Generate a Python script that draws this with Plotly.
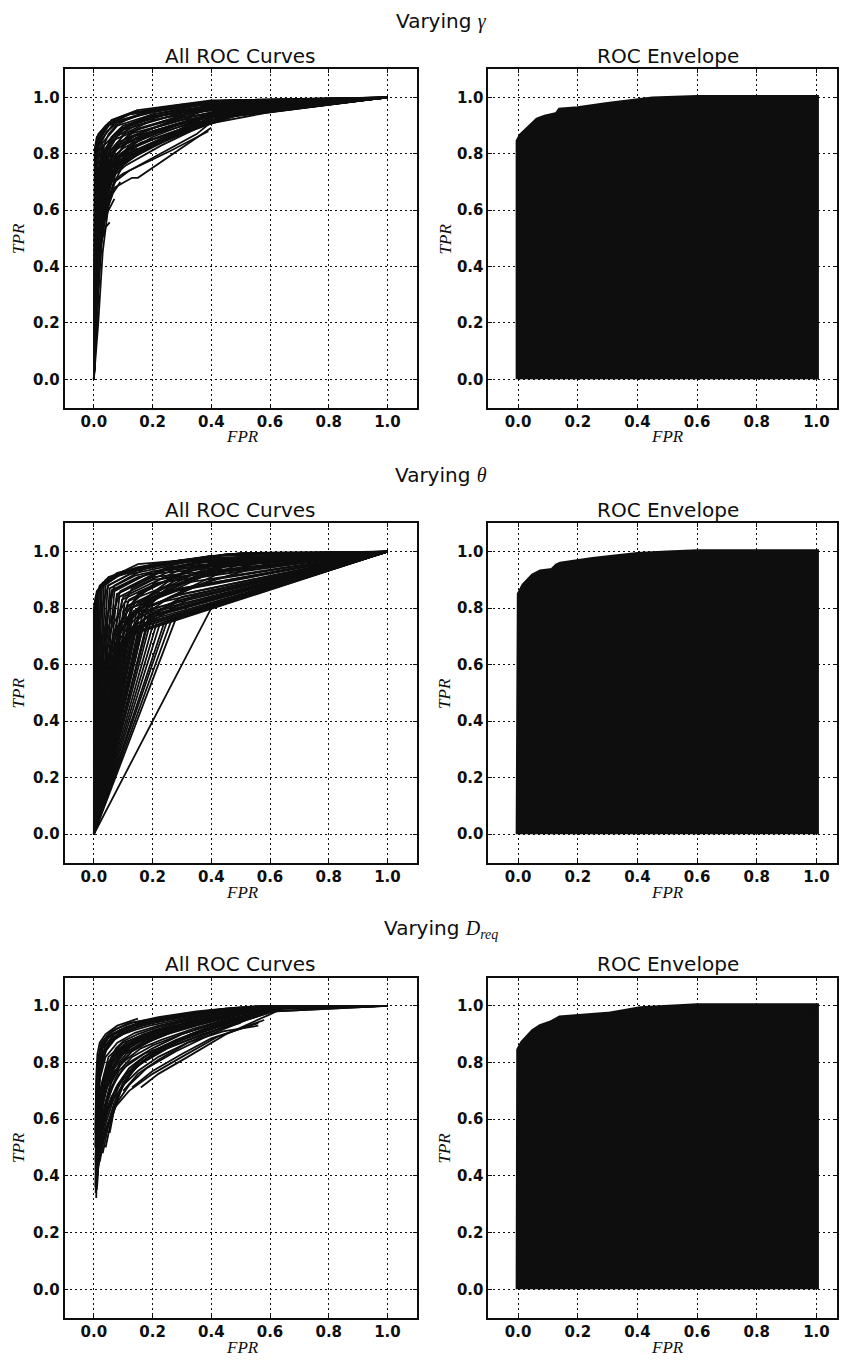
import plotly.graph_objects as go

W, H = 849, 1362
INK = "#0e0e0e"

# ---------------- ROC curves while varying gamma ----------------
GAMMA_FPR = [
    [0, 0.002, 0.006, 0.02, 0.06, 0.15, 0.40, 1.0],
    [0, 0.003, 0.008, 0.025, 0.07, 0.18, 0.45, 1.0],
    [0, 0.004, 0.010, 0.03, 0.08, 0.20, 0.45, 1.0],
    [0, 0.005, 0.012, 0.035, 0.09, 0.22, 0.48, 1.0],
    [0, 0.006, 0.015, 0.04, 0.10, 0.25, 0.50, 1.0],
    [0, 0.007, 0.018, 0.045, 0.11, 0.28, 0.52, 1.0],
    [0, 0.008, 0.020, 0.05, 0.12, 0.30, 0.55, 1.0],
    [0, 0.009, 0.022, 0.055, 0.13, 0.32, 0.55, 1.0],
    [0, 0.010, 0.025, 0.06, 0.14, 0.34, 0.58, 1.0],
    [0, 0.012, 0.030, 0.065, 0.16, 0.38, 0.60, 1.0],
    [0, 0.012, 0.03, 0.06, 0.10, 0.20, 0.35, 0.45, 1.0],
    [0, 0.010, 0.035, 0.065, 0.12, 0.25, 0.40, 1.0],
    [0, 0.015, 0.04, 0.07, 0.13, 0.15, 0.40],
    [0, 0.012, 0.035, 0.06, 0.10, 0.12, 0.35, 0.42, 1.0],
    [0, 0.010, 0.03, 0.05, 0.09, 0.22, 0.38, 0.50, 1.0],
    [0, 0.008, 0.025, 0.05, 0.08, 0.18, 0.30, 0.45, 1.0],
    [0, 0.008, 0.02, 0.045, 0.08, 0.20, 0.33, 0.45, 1.0],
    [0, 0.007, 0.02, 0.04, 0.07, 0.16, 0.28, 0.42, 1.0],
    [0, 0.006, 0.018, 0.04, 0.075, 0.14, 0.30, 0.45, 1.0],
    [0, 0.010, 0.03, 0.055, 0.09, 0.17, 0.27, 0.38, 0.58, 1.0],
    [0, 0.010, 0.03, 0.05, 0.07],
    [0, 0.015, 0.04, 0.054],
    [0, 0.010, 0.03, 0.06, 0.11, 0.20, 0.30, 0.44, 1.0],
    [0, 0.009, 0.028, 0.055, 0.10, 0.19, 0.33, 0.46, 1.0],
    [0, 0.011, 0.032, 0.06, 0.12, 0.22, 0.36, 0.50, 1.0],
    [0, 0.010, 0.03, 0.07, 0.12, 0.16, 0.26, 0.39],
    [0, 0.013, 0.036, 0.065, 0.11, 0.23, 0.37, 0.52, 1.0],
    [0, 0.008, 0.022, 0.045, 0.085, 0.15, 0.25, 0.40, 1.0],
    [0, 0.005, 0.015, 0.035, 0.065, 0.12, 0.25, 0.42, 1.0],
    [0, 0.001, 0.004, 0.015, 0.05, 0.10, 0.15, 0.30, 0.45, 1.0],
    [0, 0.002, 0.005, 0.018, 0.055, 0.12, 0.20, 0.40, 1.0],
    [0, 0.001, 0.003, 0.010, 0.04, 0.08, 0.15],
    [0, 0.002, 0.006, 0.02, 0.05, 0.09, 0.25, 0.50, 1.0],
    [0, 0.012, 0.035, 0.07, 0.12, 0.25, 0.40, 0.60, 1.0],
    [0, 0.009, 0.025, 0.05, 0.09, 0.14, 0.22, 0.33, 0.48, 1.0],
    [0, 0.011, 0.03, 0.06, 0.10, 0.15, 0.24, 0.34, 0.44, 1.0],
    [0, 0.020, 0.04, 0.06, 0.09, 0.20, 0.40, 1.0],
    [0, 0.015, 0.03, 0.05, 0.08, 0.15, 0.35, 1.0],
    [0, 0.018, 0.035, 0.05, 0.07, 0.12, 0.30, 1.0],
    [0, 0.025, 0.045, 0.065, 0.09],
    [0, 0.012, 0.025, 0.04, 0.06, 0.10, 0.20, 0.42, 1.0],
    [0, 0.006, 0.012, 0.025, 0.045, 0.08, 0.18, 0.40, 1.0],
    [0, 0.003, 0.008, 0.015, 0.03, 0.06, 0.12, 0.30, 1.0],
    [0, 0.020, 0.05, 0.08, 0.10, 0.18, 0.32, 0.45, 1.0],
    [0, 0.016, 0.04, 0.07, 0.09, 0.14, 0.22, 0.30, 0.38, 0.50, 1.0],
    [0, 0.010, 0.022, 0.035, 0.055, 0.085, 0.13, 0.20, 0.35, 1.0],
    [0, 0.008, 0.018, 0.03, 0.05, 0.075, 0.11, 0.16, 0.24, 0.36, 0.50, 1.0],
    [0, 0.014, 0.03, 0.045, 0.07, 0.11, 0.17, 0.26, 0.36, 0.48, 1.0],
    [0, 0.015, 0.03, 0.05, 0.08, 0.14, 0.30, 0.45, 1.0],
    [0, 0.012, 0.025, 0.04, 0.06, 0.10, 0.20, 0.40, 1.0],
    [0, 0.010, 0.02, 0.035, 0.055, 0.09, 0.18, 0.40, 1.0],
    [0, 0.008, 0.018, 0.03, 0.05, 0.075, 0.15],
    [0, 0.006, 0.015, 0.025, 0.04, 0.065, 0.10, 0.20, 0.35, 1.0],
    [0, 0.014, 0.028, 0.045, 0.07, 0.12, 0.22, 0.33, 0.42, 1.0],
    [0, 0.010, 0.03, 0.055, 0.08, 0.13, 0.20, 0.28, 0.36, 0.45, 1.0],
    [0, 0.012, 0.032, 0.06, 0.09, 0.16, 0.26, 0.35, 0.47, 1.0],
]
GAMMA_TPR = [
    [0, 0.40, 0.75, 0.86, 0.92, 0.955, 0.99, 1.0],
    [0, 0.35, 0.72, 0.85, 0.91, 0.95, 0.985, 1.0],
    [0, 0.30, 0.70, 0.84, 0.90, 0.94, 0.98, 1.0],
    [0, 0.32, 0.68, 0.83, 0.89, 0.935, 0.975, 1.0],
    [0, 0.35, 0.66, 0.82, 0.885, 0.93, 0.97, 1.0],
    [0, 0.33, 0.64, 0.80, 0.875, 0.925, 0.965, 1.0],
    [0, 0.36, 0.62, 0.79, 0.87, 0.92, 0.96, 1.0],
    [0, 0.38, 0.60, 0.77, 0.86, 0.915, 0.955, 1.0],
    [0, 0.40, 0.60, 0.76, 0.85, 0.91, 0.95, 1.0],
    [0, 0.42, 0.60, 0.75, 0.84, 0.905, 0.948, 1.0],
    [0, 0.40, 0.62, 0.75, 0.80, 0.86, 0.92, 0.95, 1.0],
    [0, 0.42, 0.63, 0.74, 0.78, 0.86, 0.93, 1.0],
    [0, 0.45, 0.60, 0.68, 0.715, 0.715, 0.893],
    [0, 0.43, 0.62, 0.70, 0.73, 0.74, 0.87, 0.93, 1.0],
    [0, 0.40, 0.65, 0.74, 0.79, 0.85, 0.91, 0.955, 1.0],
    [0, 0.38, 0.66, 0.77, 0.82, 0.87, 0.91, 0.955, 1.0],
    [0, 0.35, 0.68, 0.79, 0.84, 0.89, 0.93, 0.96, 1.0],
    [0, 0.33, 0.70, 0.80, 0.85, 0.89, 0.93, 0.965, 1.0],
    [0, 0.32, 0.72, 0.82, 0.86, 0.90, 0.945, 0.97, 1.0],
    [0, 0.40, 0.63, 0.74, 0.78, 0.82, 0.87, 0.93, 0.945, 1.0],
    [0, 0.40, 0.55, 0.60, 0.64],
    [0, 0.45, 0.54, 0.557],
    [0, 0.42, 0.66, 0.77, 0.81, 0.85, 0.89, 0.94, 1.0],
    [0, 0.40, 0.67, 0.78, 0.82, 0.87, 0.915, 0.95, 1.0],
    [0, 0.41, 0.64, 0.75, 0.79, 0.84, 0.90, 0.945, 1.0],
    [0, 0.42, 0.60, 0.70, 0.74, 0.76, 0.81, 0.88],
    [0, 0.44, 0.62, 0.72, 0.76, 0.83, 0.90, 0.95, 1.0],
    [0, 0.36, 0.66, 0.78, 0.83, 0.87, 0.91, 0.96, 1.0],
    [0, 0.30, 0.70, 0.81, 0.86, 0.90, 0.94, 0.975, 1.0],
    [0, 0.50, 0.80, 0.87, 0.91, 0.935, 0.95, 0.975, 0.99, 1.0],
    [0, 0.45, 0.78, 0.86, 0.905, 0.94, 0.955, 0.985, 1.0],
    [0, 0.55, 0.82, 0.86, 0.90, 0.925, 0.955],
    [0, 0.40, 0.76, 0.85, 0.90, 0.92, 0.96, 0.99, 1.0],
    [0, 0.42, 0.62, 0.73, 0.78, 0.85, 0.93, 0.95, 1.0],
    [0, 0.40, 0.64, 0.75, 0.80, 0.83, 0.86, 0.90, 0.94, 1.0],
    [0, 0.42, 0.62, 0.72, 0.77, 0.80, 0.85, 0.89, 0.93, 1.0],
    [0, 0.50, 0.62, 0.72, 0.80, 0.88, 0.94, 1.0],
    [0, 0.45, 0.66, 0.76, 0.83, 0.89, 0.95, 1.0],
    [0, 0.50, 0.63, 0.70, 0.78, 0.86, 0.93, 1.0],
    [0, 0.55, 0.60, 0.66, 0.70],
    [0, 0.50, 0.70, 0.80, 0.86, 0.90, 0.93, 0.97, 1.0],
    [0, 0.55, 0.76, 0.84, 0.88, 0.91, 0.945, 0.98, 1.0],
    [0, 0.60, 0.80, 0.85, 0.885, 0.915, 0.94, 0.97, 1.0],
    [0, 0.45, 0.64, 0.72, 0.76, 0.82, 0.88, 0.93, 1.0],
    [0, 0.48, 0.66, 0.74, 0.77, 0.80, 0.835, 0.87, 0.90, 0.94, 1.0],
    [0, 0.52, 0.72, 0.80, 0.85, 0.88, 0.91, 0.94, 0.97, 1.0],
    [0, 0.50, 0.74, 0.82, 0.87, 0.90, 0.92, 0.94, 0.955, 0.975, 0.99, 1.0],
    [0, 0.50, 0.68, 0.76, 0.81, 0.84, 0.87, 0.90, 0.93, 0.96, 1.0],
    [0, 0.20, 0.45, 0.62, 0.76, 0.84, 0.91, 0.95, 1.0],
    [0, 0.25, 0.50, 0.68, 0.80, 0.87, 0.92, 0.96, 1.0],
    [0, 0.30, 0.55, 0.72, 0.82, 0.88, 0.93, 0.97, 1.0],
    [0, 0.20, 0.40, 0.60, 0.72, 0.78, 0.82],
    [0, 0.25, 0.50, 0.70, 0.80, 0.86, 0.89, 0.93, 0.96, 1.0],
    [0, 0.30, 0.50, 0.64, 0.74, 0.80, 0.85, 0.90, 0.935, 1.0],
    [0, 0.35, 0.58, 0.70, 0.76, 0.79, 0.83, 0.87, 0.90, 0.935, 1.0],
    [0, 0.38, 0.60, 0.72, 0.77, 0.81, 0.87, 0.92, 0.95, 1.0],
]

# ---------------- ROC curves while varying theta ----------------
THETA_FPR = [
    [0, 0.000, 0.01, 0.05, 0.15, 0.30, 0.50, 1.0],
    [0, 0.003, 0.02, 0.08, 0.20, 0.45, 1.0],
    [0, 0.006, 0.03, 0.10, 0.25, 0.50, 1.0],
    [0, 0.010, 0.04, 0.12, 0.30, 1.0],
    [0, 0.014, 0.05, 0.15, 0.35, 1.0],
    [0, 0.018, 0.06, 0.15, 0.29, 1.0],
    [0, 0.023, 0.07, 0.18, 0.40, 1.0],
    [0, 0.028, 0.08, 0.20, 0.45, 1.0],
    [0, 0.034, 0.09, 0.25, 1.0],
    [0, 0.040, 0.10, 0.30, 1.0],
    [0, 0.047, 0.12, 0.35, 1.0],
    [0, 0.054, 0.14, 0.40, 1.0],
    [0, 0.062, 0.15, 0.35, 1.0],
    [0, 0.070, 0.18, 1.0],
    [0, 0.078, 0.20, 1.0],
    [0, 0.087, 0.20, 1.0],
    [0, 0.096, 0.22, 1.0],
    [0, 0.105, 0.25, 1.0],
    [0, 0.115, 0.30, 1.0],
    [0, 0.125, 0.28, 1.0],
    [0, 0.135, 0.30, 1.0],
    [0, 0.145, 1.0],
    [0, 0.155, 0.30, 1.0],
    [0, 0.165, 1.0],
    [0, 0.175, 0.35, 1.0],
    [0, 0.185, 1.0],
    [0, 0.195, 0.40, 1.0],
    [0, 0.205, 1.0],
    [0, 0.215, 1.0],
    [0, 0.225, 1.0],
    [0, 0.240, 1.0],
    [0, 0.250, 1.0],
    [0, 0.265, 1.0],
    [0, 0.280, 1.0],
    [0, 0.400, 1.0],
    [0, 0.010, 0.06, 0.20, 1.0],
    [0, 0.020, 0.08, 0.25, 1.0],
    [0, 0.030, 0.10, 0.30, 1.0],
    [0, 0.040, 0.12, 0.35, 1.0],
    [0, 0.050, 0.14, 0.40, 1.0],
    [0, 0.060, 0.16, 0.45, 1.0],
    [0, 0.070, 0.18, 0.50, 1.0],
    [0, 0.080, 0.20, 1.0],
    [0, 0.090, 0.22, 1.0],
    [0, 0.100, 0.20, 1.0],
    [0, 0.110, 1.0],
    [0, 0.120, 1.0],
    [0, 0.130, 1.0],
    [0, 0.015, 0.04, 0.09, 0.25, 1.0],
    [0, 0.005, 0.02, 0.05, 0.15, 0.45, 1.0],
    [0, 0.025, 0.07, 0.16, 0.40, 1.0],
    [0, 0.035, 0.09, 0.20, 1.0],
    [0, 0.045, 0.10, 0.22, 1.0],
    [0, 0.075, 0.15, 0.26, 1.0],
    [0, 0.060, 0.13, 0.24, 1.0],
    [0, 0.090, 0.17, 0.30, 1.0],
    [0, 0.140, 0.30, 1.0],
    [0, 0.150, 1.0],
    [0, 0.160, 0.35, 1.0],
    [0, 0.170, 1.0],
    [0, 0.085, 0.20, 0.40, 1.0],
    [0, 0.065, 0.15, 0.35, 1.0],
    [0, 0.105, 0.25, 0.45, 1.0],
    [0, 0.120, 0.30, 0.50, 1.0],
    [0, 0.045, 0.13, 0.30, 0.55, 1.0],
    [0, 0.020, 0.07, 0.20, 0.40, 1.0],
    [0, 0.100, 0.22, 0.50, 1.0],
    [0, 0.130, 0.26, 0.55, 1.0],
    [0, 0.180, 0.35, 0.60, 1.0],
    [0, 0.200, 0.40, 1.0],
    [0, 0.160, 0.28, 0.45, 1.0],
    [0, 0.110, 0.24, 0.38, 1.0],
    [0, 0.080, 0.17, 0.33, 0.60, 1.0],
]
THETA_TPR = [
    [0, 0.80, 0.86, 0.91, 0.945, 0.97, 0.995, 1.0],
    [0, 0.82, 0.88, 0.925, 0.955, 0.99, 1.0],
    [0, 0.84, 0.89, 0.93, 0.96, 0.995, 1.0],
    [0, 0.85, 0.90, 0.935, 0.97, 1.0],
    [0, 0.86, 0.905, 0.94, 0.975, 1.0],
    [0, 0.865, 0.91, 0.956, 0.968, 1.0],
    [0, 0.87, 0.91, 0.945, 0.985, 1.0],
    [0, 0.875, 0.915, 0.95, 0.99, 1.0],
    [0, 0.88, 0.92, 0.96, 1.0],
    [0, 0.885, 0.925, 0.965, 1.0],
    [0, 0.88, 0.92, 0.97, 1.0],
    [0, 0.87, 0.915, 0.975, 1.0],
    [0, 0.865, 0.91, 0.96, 1.0],
    [0, 0.86, 0.92, 1.0],
    [0, 0.85, 0.91, 1.0],
    [0, 0.84, 0.90, 1.0],
    [0, 0.83, 0.89, 1.0],
    [0, 0.82, 0.88, 1.0],
    [0, 0.81, 0.87, 1.0],
    [0, 0.80, 0.86, 1.0],
    [0, 0.79, 0.85, 1.0],
    [0, 0.785, 1.0],
    [0, 0.78, 0.83, 1.0],
    [0, 0.775, 1.0],
    [0, 0.77, 0.82, 1.0],
    [0, 0.765, 1.0],
    [0, 0.76, 0.82, 1.0],
    [0, 0.755, 1.0],
    [0, 0.75, 1.0],
    [0, 0.745, 1.0],
    [0, 0.75, 1.0],
    [0, 0.755, 1.0],
    [0, 0.76, 1.0],
    [0, 0.765, 1.0],
    [0, 0.80, 1.0],
    [0, 0.50, 0.86, 0.93, 1.0],
    [0, 0.50, 0.85, 0.94, 1.0],
    [0, 0.55, 0.84, 0.94, 1.0],
    [0, 0.60, 0.83, 0.95, 1.0],
    [0, 0.62, 0.82, 0.95, 1.0],
    [0, 0.64, 0.81, 0.95, 1.0],
    [0, 0.65, 0.80, 0.96, 1.0],
    [0, 0.66, 0.79, 1.0],
    [0, 0.67, 0.78, 1.0],
    [0, 0.68, 0.77, 1.0],
    [0, 0.70, 1.0],
    [0, 0.72, 1.0],
    [0, 0.73, 1.0],
    [0, 0.45, 0.70, 0.86, 0.945, 1.0],
    [0, 0.55, 0.78, 0.88, 0.935, 0.99, 1.0],
    [0, 0.45, 0.72, 0.86, 0.96, 1.0],
    [0, 0.50, 0.74, 0.85, 1.0],
    [0, 0.55, 0.76, 0.82, 1.0],
    [0, 0.62, 0.76, 0.84, 1.0],
    [0, 0.58, 0.75, 0.86, 1.0],
    [0, 0.64, 0.76, 0.83, 1.0],
    [0, 0.74, 0.84, 1.0],
    [0, 0.72, 1.0],
    [0, 0.73, 0.85, 1.0],
    [0, 0.745, 1.0],
    [0, 0.72, 0.84, 0.93, 1.0],
    [0, 0.70, 0.85, 0.95, 1.0],
    [0, 0.75, 0.87, 0.96, 1.0],
    [0, 0.77, 0.89, 0.97, 1.0],
    [0, 0.70, 0.87, 0.95, 0.99, 1.0],
    [0, 0.65, 0.88, 0.955, 0.985, 1.0],
    [0, 0.79, 0.90, 0.98, 1.0],
    [0, 0.80, 0.90, 0.975, 1.0],
    [0, 0.80, 0.88, 0.96, 1.0],
    [0, 0.81, 0.90, 1.0],
    [0, 0.82, 0.90, 0.955, 1.0],
    [0, 0.76, 0.86, 0.92, 1.0],
    [0, 0.70, 0.82, 0.90, 0.97, 1.0],
]

# ---------------- ROC curves while varying D_req ----------------
DREQ_FPR = [
    [0.008, 0.012, 0.02, 0.05, 0.10, 0.20, 0.35, 0.50, 0.65, 1.0],
    [0.006, 0.010, 0.015, 0.03, 0.07, 0.15, 0.30, 0.45, 0.62, 1.0],
    [0.005, 0.008, 0.012, 0.025, 0.06, 0.12, 0.25, 0.40, 0.60, 1.0],
    [0.010, 0.015, 0.03, 0.06, 0.10, 0.18, 0.30, 0.45, 0.60, 1.0],
    [0.009, 0.018, 0.035, 0.06, 0.10, 0.15, 0.25, 0.40, 0.55, 0.65, 1.0],
    [0.012, 0.02, 0.04, 0.07, 0.12, 0.20, 0.30, 0.42, 0.58],
    [0.007, 0.010, 0.02, 0.04, 0.08, 0.14, 0.22, 0.35, 0.50, 0.63, 1.0],
    [0.010, 0.02, 0.04, 0.06, 0.09, 0.13, 0.20, 0.30, 0.45, 0.60, 1.0],
    [0.008, 0.015, 0.03, 0.05, 0.08, 0.12, 0.18, 0.28, 0.40, 0.55, 0.65, 1.0],
    [0.011, 0.025, 0.045, 0.07, 0.10, 0.16, 0.25, 0.38, 0.50, 0.64],
    [0.13, 0.20, 0.30, 0.40, 0.56],
    [0.16, 0.22, 0.32, 0.45, 0.60, 0.65, 1.0],
    [0.006, 0.010, 0.018, 0.035, 0.06, 0.10, 0.15, 0.20, 0.30, 0.45, 1.0],
    [0.005, 0.008, 0.012, 0.02, 0.04, 0.08, 0.15],
    [0.009, 0.014, 0.025, 0.045, 0.075, 0.11, 0.17, 0.26, 0.36, 0.50, 0.62, 1.0],
    [0.010, 0.02, 0.035, 0.055, 0.085, 0.13, 0.20, 0.30, 0.42, 0.56, 0.65, 1.0],
    [0.012, 0.03, 0.05, 0.08, 0.12, 0.18, 0.28, 0.40, 0.52, 0.64, 1.0],
    [0.007, 0.012, 0.022, 0.04, 0.07, 0.11, 0.16, 0.24, 0.34, 0.48, 0.60, 1.0],
    [0.008, 0.016, 0.03, 0.05, 0.09, 0.14, 0.22, 0.33, 0.47, 0.60, 1.0],
    [0.010, 0.022, 0.04, 0.065, 0.10, 0.17, 0.27, 0.38, 0.50, 0.62],
    [0.006, 0.010, 0.016, 0.03, 0.05, 0.09, 0.14, 0.25, 0.40, 0.55, 1.0],
    [0.009, 0.02, 0.04, 0.07, 0.11, 0.16, 0.23, 0.34, 0.46, 0.58, 0.66, 1.0],
    [0.040, 0.06, 0.09, 0.13, 0.19, 0.27, 0.37, 0.50],
    [0.054, 0.07, 0.10, 0.14, 0.20, 0.30, 0.42, 0.55, 0.63, 1.0],
    [0.005, 0.008, 0.013, 0.025, 0.045, 0.08, 0.13, 0.22, 0.35, 0.50, 0.60, 1.0],
    [0.012, 0.025, 0.05, 0.08, 0.12, 0.20, 0.30, 0.45, 0.60, 0.90, 1.0],
    [0.007, 0.011, 0.02, 0.035, 0.055, 0.08, 0.12, 0.20, 0.32, 0.46, 0.60, 1.0],
    [0.010, 0.018, 0.03, 0.05, 0.075, 0.10, 0.15, 0.22, 0.30, 0.42, 0.58, 1.0],
    [0.008, 0.013, 0.024, 0.042, 0.065, 0.10, 0.14, 0.19, 0.26, 0.36, 0.50, 0.64, 1.0],
    [0.011, 0.02, 0.035, 0.06, 0.09, 0.13, 0.18, 0.25, 0.35, 0.48, 0.60],
    [0.009, 0.015, 0.028, 0.05, 0.08, 0.12, 0.17, 0.24, 0.33, 0.44, 0.56, 0.65, 1.0],
    [0.006, 0.009, 0.015, 0.028, 0.048, 0.075, 0.11, 0.18, 0.28, 0.42, 0.58, 1.0],
    [0.012, 0.024, 0.045, 0.075, 0.11, 0.15, 0.20, 0.28, 0.38, 0.50, 0.62, 1.0],
    [0.010, 0.02, 0.04, 0.07, 0.10, 0.14, 0.20, 0.29, 0.40, 0.54, 0.65, 1.0],
    [0.008, 0.014, 0.026, 0.046, 0.07, 0.10, 0.15, 0.21, 0.30, 0.40, 0.52, 0.63, 1.0],
    [0.010, 0.03, 0.06, 0.10, 0.15, 0.22, 0.32, 0.44, 0.56],
    [0.007, 0.015, 0.035, 0.07, 0.11, 0.17, 0.25, 0.36, 0.48, 0.62, 1.0],
    [0.006, 0.011, 0.02, 0.035, 0.06, 0.09, 0.13, 0.19, 0.27, 0.38, 0.52, 0.64, 1.0],
    [0.010, 0.02, 0.038, 0.06, 0.09, 0.13, 0.19, 0.28, 0.40, 0.55, 0.65, 1.0],
    [0.008, 0.016, 0.03, 0.055, 0.085, 0.12, 0.18, 0.26, 0.37, 0.50, 0.63, 1.0],
    [0.012, 0.028, 0.05, 0.08, 0.12, 0.17, 0.24, 0.34, 0.46, 0.60, 1.0],
    [0.007, 0.012, 0.022, 0.038, 0.06, 0.09, 0.13, 0.18, 0.25, 0.34, 0.46, 0.60, 1.0],
    [0.009, 0.018, 0.032, 0.05, 0.08, 0.12, 0.16, 0.22, 0.30, 0.42, 0.56, 1.0],
    [0.011, 0.02, 0.035, 0.055, 0.08, 0.11, 0.15, 0.21, 0.29, 0.39, 0.50, 0.62, 1.0],
    [0.03, 0.05, 0.08, 0.11, 0.16, 0.23, 0.33, 0.46, 0.60],
    [0.02, 0.04, 0.07, 0.10, 0.15, 0.21, 0.30, 0.42, 0.55, 0.64, 1.0],
    [0.10, 0.15, 0.22, 0.32, 0.44, 0.57],
]
DREQ_TPR = [
    [0.322, 0.50, 0.70, 0.82, 0.87, 0.91, 0.95, 0.98, 1.0, 1.0],
    [0.34, 0.55, 0.75, 0.85, 0.90, 0.935, 0.965, 0.99, 1.0, 1.0],
    [0.36, 0.60, 0.80, 0.87, 0.91, 0.94, 0.96, 0.985, 1.0, 1.0],
    [0.35, 0.48, 0.65, 0.77, 0.83, 0.88, 0.92, 0.96, 0.99, 1.0],
    [0.38, 0.50, 0.60, 0.68, 0.74, 0.79, 0.85, 0.91, 0.96, 0.995, 1.0],
    [0.40, 0.48, 0.56, 0.64, 0.70, 0.76, 0.82, 0.89, 0.95],
    [0.40, 0.60, 0.74, 0.82, 0.87, 0.905, 0.93, 0.96, 0.985, 1.0, 1.0],
    [0.42, 0.55, 0.66, 0.73, 0.79, 0.84, 0.88, 0.92, 0.96, 0.99, 1.0],
    [0.45, 0.62, 0.72, 0.78, 0.82, 0.86, 0.89, 0.93, 0.96, 0.985, 1.0, 1.0],
    [0.44, 0.52, 0.60, 0.68, 0.75, 0.80, 0.86, 0.91, 0.95, 0.995],
    [0.712, 0.77, 0.83, 0.885, 0.939],
    [0.712, 0.76, 0.82, 0.90, 0.97, 0.995, 1.0],
    [0.50, 0.72, 0.82, 0.87, 0.90, 0.92, 0.94, 0.95, 0.97, 0.99, 1.0],
    [0.55, 0.75, 0.83, 0.87, 0.90, 0.93, 0.955],
    [0.40, 0.58, 0.70, 0.78, 0.83, 0.86, 0.89, 0.92, 0.95, 0.98, 1.0, 1.0],
    [0.38, 0.50, 0.62, 0.70, 0.77, 0.82, 0.86, 0.90, 0.94, 0.97, 0.995, 1.0],
    [0.42, 0.52, 0.58, 0.66, 0.72, 0.78, 0.84, 0.90, 0.95, 0.99, 1.0],
    [0.42, 0.65, 0.77, 0.84, 0.88, 0.91, 0.93, 0.95, 0.97, 0.99, 1.0, 1.0],
    [0.36, 0.55, 0.68, 0.76, 0.82, 0.87, 0.90, 0.93, 0.97, 0.99, 1.0],
    [0.40, 0.53, 0.64, 0.72, 0.78, 0.83, 0.87, 0.92, 0.955, 0.99],
    [0.45, 0.68, 0.80, 0.86, 0.89, 0.915, 0.93, 0.955, 0.98, 0.998, 1.0],
    [0.50, 0.60, 0.70, 0.77, 0.81, 0.85, 0.88, 0.92, 0.955, 0.98, 1.0, 1.0],
    [0.50, 0.60, 0.70, 0.77, 0.82, 0.86, 0.90, 0.94],
    [0.552, 0.64, 0.72, 0.78, 0.83, 0.88, 0.93, 0.97, 0.99, 1.0],
    [0.50, 0.70, 0.80, 0.86, 0.895, 0.92, 0.94, 0.96, 0.98, 0.995, 1.0, 1.0],
    [0.45, 0.58, 0.68, 0.75, 0.80, 0.85, 0.90, 0.95, 0.98, 0.994, 1.0],
    [0.38, 0.60, 0.76, 0.83, 0.87, 0.89, 0.915, 0.94, 0.965, 0.985, 1.0, 1.0],
    [0.42, 0.60, 0.72, 0.80, 0.85, 0.875, 0.90, 0.925, 0.945, 0.97, 0.995, 1.0],
    [0.48, 0.66, 0.78, 0.845, 0.88, 0.90, 0.915, 0.93, 0.945, 0.965, 0.985, 1.0, 1.0],
    [0.36, 0.52, 0.64, 0.74, 0.80, 0.84, 0.87, 0.90, 0.93, 0.965, 0.99],
    [0.44, 0.60, 0.72, 0.80, 0.845, 0.875, 0.90, 0.92, 0.94, 0.965, 0.985, 1.0, 1.0],
    [0.42, 0.65, 0.78, 0.85, 0.885, 0.905, 0.925, 0.945, 0.965, 0.985, 1.0, 1.0],
    [0.48, 0.56, 0.64, 0.71, 0.76, 0.80, 0.84, 0.88, 0.92, 0.96, 0.99, 1.0],
    [0.52, 0.66, 0.76, 0.82, 0.855, 0.88, 0.905, 0.93, 0.955, 0.98, 1.0, 1.0],
    [0.40, 0.56, 0.68, 0.76, 0.81, 0.85, 0.88, 0.905, 0.93, 0.955, 0.98, 1.0, 1.0],
    [0.48, 0.58, 0.66, 0.72, 0.77, 0.82, 0.87, 0.91, 0.93],
    [0.46, 0.60, 0.70, 0.78, 0.83, 0.87, 0.91, 0.945, 0.975, 0.995, 1.0],
    [0.46, 0.66, 0.78, 0.84, 0.88, 0.90, 0.92, 0.94, 0.955, 0.975, 0.99, 1.0, 1.0],
    [0.44, 0.60, 0.72, 0.79, 0.84, 0.87, 0.90, 0.925, 0.955, 0.98, 1.0, 1.0],
    [0.40, 0.58, 0.70, 0.77, 0.82, 0.855, 0.885, 0.91, 0.94, 0.97, 0.995, 1.0],
    [0.42, 0.55, 0.64, 0.72, 0.78, 0.82, 0.86, 0.90, 0.94, 0.98, 1.0],
    [0.50, 0.70, 0.80, 0.855, 0.885, 0.905, 0.92, 0.935, 0.95, 0.965, 0.985, 1.0, 1.0],
    [0.36, 0.52, 0.66, 0.75, 0.81, 0.85, 0.875, 0.90, 0.93, 0.96, 0.99, 1.0],
    [0.48, 0.64, 0.74, 0.80, 0.84, 0.87, 0.89, 0.915, 0.94, 0.96, 0.98, 1.0, 1.0],
    [0.48, 0.58, 0.68, 0.74, 0.80, 0.85, 0.90, 0.95, 0.985],
    [0.45, 0.56, 0.66, 0.73, 0.79, 0.84, 0.88, 0.93, 0.97, 0.995, 1.0],
    [0.70, 0.76, 0.81, 0.87, 0.925, 0.97],
]

# ---------------- ROC envelopes (upper hull of all curves) ----------------
ENV_GAMMA_FPR = [0.0, 0.0, 0.01, 0.02, 0.04, 0.065, 0.09, 0.11, 0.13, 0.14, 0.20, 0.30, 0.40, 0.45, 0.60, 1.0, 1.0]
ENV_GAMMA_TPR = [0.0, 0.845, 0.865, 0.875, 0.90, 0.92, 0.93, 0.935, 0.94, 0.955, 0.96, 0.975, 0.99, 0.995, 1.0, 1.0, 0.0]
ENV_THETA_FPR = [0.0, 0.0, 0.004, 0.019, 0.05, 0.075, 0.114, 0.13, 0.142, 0.25, 0.40, 0.50, 0.60, 1.0, 1.0]
ENV_THETA_TPR = [0.0, 0.845, 0.85, 0.88, 0.915, 0.928, 0.933, 0.95, 0.956, 0.972, 0.99, 0.995, 1.0, 1.0, 0.0]
ENV_DREQ_FPR = [0.0, 0.0, 0.002, 0.015, 0.03, 0.05, 0.075, 0.11, 0.14, 0.30, 0.41, 0.60, 1.0, 1.0]
ENV_DREQ_TPR = [0.0, 0.84, 0.845, 0.87, 0.89, 0.91, 0.927, 0.94, 0.957, 0.97, 0.99, 1.0, 1.0, 0.0]

ROW_TITLES = [
    "Varying <span style='font-family:Liberation Serif'><i>γ</i></span>",
    "Varying <span style='font-family:Liberation Serif'><i>θ</i></span>",
    "Varying <span style='font-family:Liberation Serif'><i>D</i><sub><i>req</i></sub></span>",
]
PANEL_TITLES = ["All ROC Curves", "ROC Envelope"]
X_LABEL, Y_LABEL = "FPR", "TPR"
TICK_VALS = [0.0, 0.2, 0.4, 0.6, 0.8, 1.0]
TICK_TEXT = ["0.0", "0.2", "0.4", "0.6", "0.8", "1.0"]

CURVES = [(GAMMA_FPR, GAMMA_TPR), (THETA_FPR, THETA_TPR), (DREQ_FPR, DREQ_TPR)]
ENVELOPES = [(ENV_GAMMA_FPR, ENV_GAMMA_TPR), (ENV_THETA_FPR, ENV_THETA_TPR),
             (ENV_DREQ_FPR, ENV_DREQ_TPR)]

# panel geometry in pixels
COL_X = [(64.5, 416.8), (488.3, 837.3)]
COL_RANGE = [(-0.1, 1.1), (-0.1, 1.07)]
ROW_Y = [(69.3, 407.5), (523.4, 862.5), (977.5, 1317.6)]


def px(x):
    return x / W


def py(y):
    return 1 - y / H


fig = go.Figure()
layout = {}
annotations = []
TICK_FONT = dict(family="DejaVu Sans", size=15, color=INK, weight="bold")
LABEL_FONT = dict(family="Liberation Serif", size=17, color=INK, style="italic")
TITLE_FONT = dict(family="DejaVu Sans", size=20, color=INK)

for r in range(3):
    top, bot = ROW_Y[r]
    for c in range(2):
        n = 2 * r + c + 1
        sfx = "" if n == 1 else str(n)
        xa, ya = "x" + sfx, "y" + sfx
        x0, x1 = COL_X[c]
        common = dict(
            showline=True, linecolor=INK, linewidth=1.6, mirror="ticks",
            ticks="inside", ticklen=4, tickwidth=1, tickcolor=INK,
            showgrid=True, gridcolor=INK, gridwidth=1.3, griddash="2px,3px",
            zeroline=False, tickvals=TICK_VALS, ticktext=TICK_TEXT,
            tickfont=TICK_FONT, fixedrange=True,
        )
        layout["xaxis" + sfx] = dict(common, domain=[px(x0), px(x1)],
                                     range=list(COL_RANGE[c]), anchor=ya)
        layout["yaxis" + sfx] = dict(common, domain=[py(bot), py(top)],
                                     range=[-0.1, 1.1], anchor=xa)

        if c == 0:
            fprs, tprs = CURVES[r]
            for fx, ty in zip(fprs, tprs):
                fig.add_trace(go.Scatter(
                    x=fx, y=ty, mode="lines", xaxis=xa, yaxis=ya,
                    line=dict(color=INK, width=1.8), showlegend=False,
                    hoverinfo="skip"))
        else:
            ef, et = ENVELOPES[r]
            fig.add_trace(go.Scatter(
                x=ef, y=et, mode="lines", fill="toself", fillcolor=INK,
                xaxis=xa, yaxis=ya, line=dict(color=INK, width=5),
                showlegend=False, hoverinfo="skip"))

        cx = 240.7 if c == 0 else 668.0
        annotations.append(dict(text=PANEL_TITLES[c], x=px(cx), y=py(top - 13.5),
                                xref="paper", yref="paper", showarrow=False,
                                xanchor="center", yanchor="middle", font=TITLE_FONT))
        fx_c = 242.0 if c == 0 else 667.5
        annotations.append(dict(text=X_LABEL, x=px(fx_c), y=py(bot + 29.5),
                                xref="paper", yref="paper", showarrow=False,
                                xanchor="center", yanchor="middle", font=LABEL_FONT))
        tx = 18.5 if c == 0 else 445.0
        annotations.append(dict(text=Y_LABEL, x=px(tx), y=py((top + bot) / 2),
                                xref="paper", yref="paper", showarrow=False,
                                textangle=-90, xanchor="center", yanchor="middle",
                                font=LABEL_FONT))

    annotations.append(dict(text=ROW_TITLES[r], x=px(441.0), y=py(top - 48.3),
                            xref="paper", yref="paper", showarrow=False,
                            xanchor="center", yanchor="middle", font=TITLE_FONT))

fig.update_layout(
    width=W, height=H, margin=dict(l=0, r=0, t=0, b=0),
    paper_bgcolor="white", plot_bgcolor="white",
    annotations=annotations, showlegend=False, **layout,
)

fig.write_html("out.html", config={"displayModeBar": False})
